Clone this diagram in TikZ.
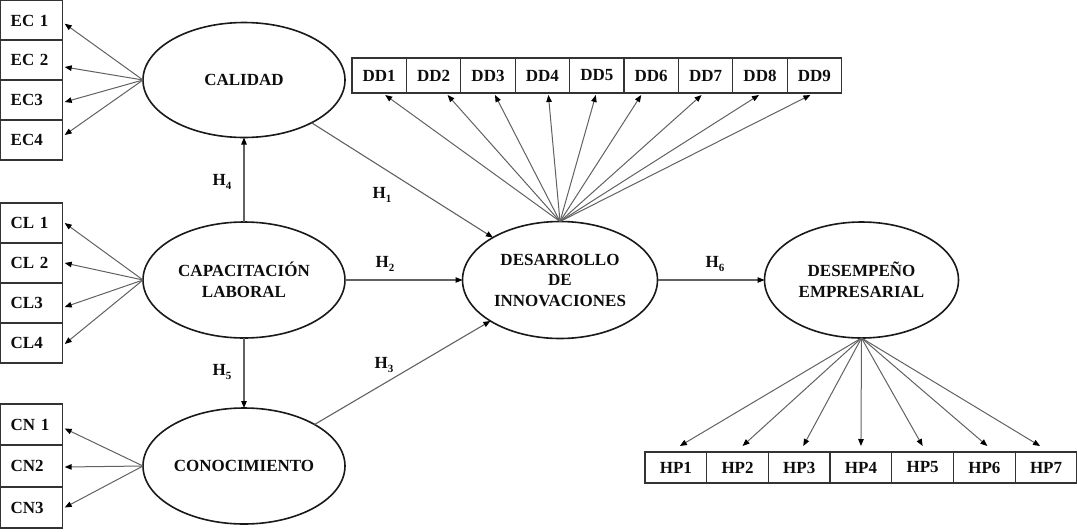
\documentclass[tikz,border=0pt]{standalone}
\usepackage{fontspec}
\setmainfont{Liberation Serif}
\usetikzlibrary{arrows.meta,calc,shapes.geometric}
\newcommand\Hsub[2]{#1\raisebox{-0.45ex}{\fontsize{11}{11}\selectfont #2}}
\begin{document}
\begin{tikzpicture}[x=1pt,y=-1pt,
  every node/.style={font=\fontsize{17}{20.5}\selectfont\bfseries, text=black!95},
  lat/.style={ellipse, draw=black!90, line width=1.6pt, inner sep=0pt, outer sep=0pt, align=center},
  ibox/.style={rectangle, draw=black!80, line width=1.3pt, inner sep=0pt, outer sep=0pt, anchor=north west},
  lbox/.style={ibox, minimum width=62pt, text width=42pt, inner xsep=10pt, align=left},
  ind/.style={draw=black!62, line width=1pt, -{Triangle[length=7pt,width=5.5pt,color=black]}},
  hyp/.style={draw=black!62, line width=1.1pt, -{Triangle[length=7pt,width=5.5pt,color=black]}},
  hlab/.style={inner sep=1pt}]
\useasboundingbox (0,0) rectangle (1077,531);

% left indicator boxes
\node[lbox, minimum height=40pt] (ec1) at (0.7,0.7) {EC 1};
\node[lbox, minimum height=40pt] (ec2) at (0.7,40) {EC 2};
\node[lbox, minimum height=40pt] (ec3) at (0.7,80) {EC3};
\node[lbox, minimum height=40pt] (ec4) at (0.7,120) {EC4};

\node[lbox, minimum height=40pt] (cl1) at (0.7,203) {CL 1};
\node[lbox, minimum height=40pt] (cl2) at (0.7,243) {CL 2};
\node[lbox, minimum height=40pt] (cl3) at (0.7,283) {CL3};
\node[lbox, minimum height=40pt] (cl4) at (0.7,323) {CL4};

\node[lbox, minimum height=41pt] (cn1) at (0.7,404) {CN 1};
\node[lbox, minimum height=42pt] (cn2) at (0.7,445) {CN2};
\node[lbox, minimum height=41pt] (cn3) at (0.7,487) {CN3};

% latent variables
\node[lat, minimum width=202pt, minimum height=115pt] (cal) at (244,80) {CALIDAD};
\node[lat, minimum width=202pt, minimum height=116pt] (cap) at (244,280) {CAPACITACIÓN\\LABORAL};
\node[lat, minimum width=202pt, minimum height=116pt] (con) at (244,466) {CONOCIMIENTO};
\node[lat, minimum width=195pt, minimum height=117pt] (des) at (560,280) {DESARROLLO\\DE\\INNOVACIONES};
\node[lat, minimum width=194pt, minimum height=116pt] (emp) at (861.5,280) {DESEMPEÑO\\EMPRESARIAL};

% DD boxes
\foreach \i in {1,...,9} {
  \node[ibox, minimum width=54.4pt, minimum height=35pt] (dd\i) at ({352+(\i-1)*54.4},58) {DD\i};
}
% HP boxes
\foreach \i in {1,...,7} {
  \node[ibox, minimum width=61.7pt, minimum height=31pt] (hp\i) at ({645+(\i-1)*61.7},452) {HP\i};
}

% indicator arrows
\draw[ind] (cal.west) -- ($(ec1.east)+(2,3)$);
\draw[ind] (cal.west) -- ($(ec2.east)+(2,7)$);
\draw[ind] (cal.west) -- ($(ec3.east)+(2,2)$);
\draw[ind] (cal.west) -- ($(ec4.east)+(2,-5)$);

\draw[ind] (cap.west) -- ($(cl1.east)+(2,0)$);
\draw[ind] (cap.west) -- ($(cl2.east)+(2,0)$);
\draw[ind] (cap.west) -- ($(cl3.east)+(2,4)$);
\draw[ind] (cap.west) -- ($(cl4.east)+(2,1)$);

\draw[ind] (con.west) -- ($(cn1.east)+(2,4)$);
\draw[ind] (con.west) -- ($(cn2.east)+(2,1)$);
\draw[ind] (con.west) -- ($(cn3.east)+(2,0)$);

\foreach \i/\dx in {1/6,2/14,3/7,4/6,5/-1,6/-10,7/-4,8/-1,9/-4}
  \draw[ind] (des.north) -- ($(dd\i.south)+(\dx,2)$);

\foreach \i/\dx in {1/4,2/5,3/4,4/0,5/0,6/3,7/-6}
  \draw[ind] (emp.south) -- ($(hp\i.north)+(\dx,-6)$);

% structural paths
\draw[hyp] (cap.north) -- (cal.south);
\draw[hyp] (cap.south) -- (con.north);
\draw[hyp] (cal) -- (des);
\draw[hyp] (cap) -- (des);
\draw[hyp] (con) -- (des);
\draw[hyp] (des) -- (emp);

% hypothesis labels
\node[hlab] (h4) at (222,182) {\Hsub{H}{4}};
\node[hlab] (h5) at (222,372) {\Hsub{H}{5}};
\node[hlab] (h1) at (382,195) {\Hsub{H}{1}};
\node[hlab] (h2) at (385,264) {\Hsub{H}{2}};
\node[hlab] (h3) at (384,365) {\Hsub{H}{3}};
\node[hlab] (h6) at (715,264) {\Hsub{H}{6}};
\end{tikzpicture}
\end{document}
